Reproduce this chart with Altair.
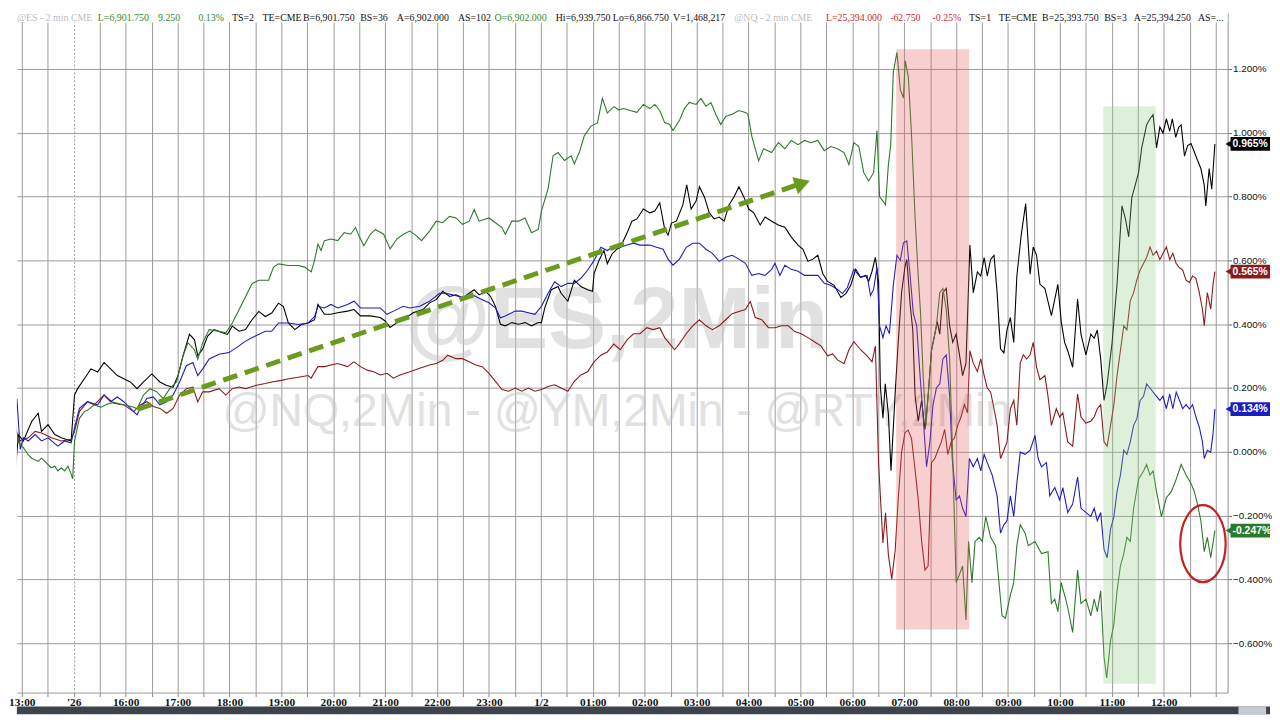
import json
import altair as alt
import pandas as pd

# ---------------- data (x = half-hour slot, 0 = "13:00" label; y = % change) ----------------
x_labels = ["13:00", "'26", "16:00", "17:00", "18:00", "19:00", "20:00", "21:00", "22:00",
            "23:00", "1/2", "01:00", "02:00", "03:00", "04:00", "05:00", "06:00", "07:00",
            "08:00", "09:00", "10:00", "11:00", "12:00"]
y_ticks = [-0.6, -0.4, -0.2, 0.0, 0.2, 0.4, 0.6, 0.8, 1.0, 1.2]

rty_black = [
    (-0.51, 0.157), (-0.38, 0.034), (-0.25, -0.059), (-0.13, 0.054), (0.06, 0.034), (0.38, 0.095),
    (0.63, 0.121), (0.76, 0.064), (1.01, 0.085), (1.27, 0.054), (1.52, 0.044), (1.90, 0.034),
    (2.03, 0.178), (2.15, 0.198), (2.41, 0.229), (2.66, 0.260), (2.92, 0.250), (3.17, 0.280),
    (3.42, 0.260), (3.68, 0.239), (3.93, 0.229), (4.18, 0.219), (4.44, 0.198), (4.69, 0.219),
    (5.01, 0.244), (5.32, 0.219), (5.58, 0.208), (5.83, 0.203), (6.02, 0.239), (6.21, 0.301),
    (6.46, 0.368), (6.65, 0.352), (6.78, 0.301), (6.97, 0.322), (7.16, 0.363), (7.41, 0.383),
    (7.73, 0.373), (7.92, 0.368), (8.11, 0.394), (8.37, 0.378), (8.62, 0.383), (8.87, 0.414),
    (9.13, 0.440), (9.38, 0.424), (9.63, 0.435), (9.89, 0.466), (10.08, 0.455), (10.27, 0.404),
    (10.52, 0.383), (10.77, 0.399), (11.03, 0.404), (11.28, 0.414),
    (11.41, 0.462), (11.66, 0.431), (11.91, 0.431), (12.17, 0.436), (12.55, 0.441), (12.80, 0.446),
    (13.05, 0.426), (13.43, 0.426), (13.81, 0.421), (14.00, 0.410), (14.19, 0.390), (14.45, 0.405),
    (14.70, 0.415), (15.08, 0.436), (15.46, 0.446), (15.71, 0.467), (15.97, 0.477), (16.22, 0.503),
    (16.48, 0.487), (16.73, 0.492), (16.98, 0.482), (17.24, 0.497), (17.43, 0.508), (17.62, 0.492),
    (17.87, 0.503), (18.06, 0.487), (18.25, 0.456), (18.44, 0.400), (18.63, 0.395), (18.88, 0.405),
    (19.14, 0.400), (19.39, 0.405), (19.64, 0.395), (19.90, 0.405), (20.02, 0.405), (20.15, 0.451),
    (20.40, 0.508), (20.66, 0.518), (20.78, 0.497), (21.04, 0.472), (21.29, 0.538), (21.54, 0.518),
    (21.80, 0.508), (21.99, 0.503), (22.05, 0.559), (22.24, 0.600), (22.43, 0.631), (22.56, 0.590),
    (22.75, 0.621), (22.94, 0.636),
    (23.06, 0.641), (23.32, 0.686), (23.51, 0.723), (23.70, 0.730), (23.95, 0.761), (24.20, 0.749),
    (24.39, 0.755), (24.58, 0.780), (24.77, 0.698), (24.90, 0.679), (25.03, 0.717), (25.22, 0.723),
    (25.47, 0.774), (25.62, 0.837), (25.79, 0.761), (25.98, 0.786), (26.11, 0.831), (26.30, 0.799),
    (26.49, 0.749), (26.68, 0.730), (26.87, 0.736), (27.06, 0.723), (27.25, 0.774), (27.44, 0.799),
    (27.63, 0.831), (27.82, 0.799), (28.01, 0.761), (28.20, 0.749), (28.45, 0.711), (28.64, 0.736),
    (28.89, 0.723), (29.15, 0.711), (29.40, 0.704), (29.65, 0.673), (29.91, 0.648), (30.10, 0.635),
    (30.29, 0.597), (30.48, 0.604), (30.67, 0.616), (30.86, 0.559), (31.05, 0.534), (31.30, 0.522),
    (31.56, 0.484), (31.75, 0.496), (31.94, 0.522), (32.13, 0.572), (32.32, 0.547), (32.51, 0.553),
    (32.63, 0.534), (32.76, 0.566), (32.89, 0.610), (33.01, 0.534), (33.08, 0.206), (33.18, 0.105),
    (33.27, 0.213), (33.39, 0.118), (33.49, -0.059), (33.65, 0.181), (33.77, 0.345), (33.90, 0.500),
    (34.03, 0.580), (34.10, 0.603), (34.23, 0.460), (34.33, 0.382), (34.42, 0.174), (34.54, 0.096),
    (34.67, 0.161), (34.80, 0.070), (34.92, 0.174), (35.05, 0.317), (35.18, 0.369), (35.27, 0.408),
    (35.37, 0.369), (35.49, 0.499), (35.62, 0.512), (35.75, 0.395), (35.87, 0.343), (36.00, 0.369),
    (36.13, 0.304), (36.25, 0.239), (36.38, 0.278), (36.53, 0.648), (36.66, 0.499), (36.82, 0.564),
    (36.95, 0.551), (37.08, 0.609), (37.20, 0.551), (37.33, 0.603), (37.46, 0.616), (37.58, 0.499),
    (37.71, 0.323), (37.84, 0.310), (37.96, 0.382), (38.09, 0.421), (38.22, 0.343), (38.34, 0.551),
    (38.51, 0.681), (38.68, 0.778), (38.85, 0.557), (38.97, 0.642), (39.10, 0.616), (39.23, 0.525),
    (39.42, 0.512), (39.67, 0.427), (39.92, 0.525), (40.05, 0.408), (40.18, 0.343), (40.30, 0.317),
    (40.49, 0.265), (40.68, 0.479), (40.81, 0.369), (41.00, 0.304), (41.19, 0.369), (41.32, 0.356),
    (41.44, 0.382), (41.57, 0.291), (41.70, 0.161), (41.82, 0.213), (42.01, 0.343), (42.20, 0.525),
    (42.39, 0.771), (42.52, 0.732), (42.65, 0.674), (42.77, 0.797), (42.90, 0.836), (43.03, 0.875),
    (43.15, 0.953), (43.34, 1.025), (43.47, 1.044), (43.59, 1.057), (43.72, 0.953), (43.85, 1.018),
    (43.97, 0.999), (44.10, 1.044), (44.23, 1.005), (44.33, 1.044), (44.46, 0.986), (44.58, 1.018),
    (44.67, 1.025), (44.80, 0.927), (44.92, 0.960), (45.05, 0.966), (45.18, 0.940), (45.30, 0.914),
    (45.43, 0.888), (45.56, 0.836), (45.62, 0.771), (45.75, 0.888), (45.85, 0.823), (45.97, 0.965),
]

ym_red = [
    (-0.51, 0.140), (-0.38, 0.100), (-0.25, 0.080), (-0.13, 0.033), (0.25, 0.044), (0.51, 0.064),
    (0.76, 0.059), (1.14, 0.044), (1.52, 0.034), (1.90, 0.039), (2.03, 0.064), (2.22, 0.126),
    (2.53, 0.157), (2.79, 0.147), (3.17, 0.178), (3.55, 0.152), (3.93, 0.147), (4.31, 0.126),
    (4.56, 0.147), (4.82, 0.157), (5.07, 0.142), (5.32, 0.136), (5.58, 0.121), (5.83, 0.136),
    (6.08, 0.178), (6.34, 0.198), (6.59, 0.203), (6.78, 0.157), (6.97, 0.188), (7.22, 0.188),
    (7.60, 0.198), (7.86, 0.178), (8.11, 0.198), (8.37, 0.203), (8.62, 0.198), (9.00, 0.208),
    (9.38, 0.214), (9.63, 0.219), (10.01, 0.224), (10.27, 0.229), (10.65, 0.234), (11.03, 0.239),
    (11.15, 0.231), (11.41, 0.267), (11.66, 0.267), (11.91, 0.272), (12.17, 0.277), (12.55, 0.267),
    (12.80, 0.282), (13.05, 0.267), (13.31, 0.256), (13.56, 0.251), (13.81, 0.241), (14.07, 0.246),
    (14.32, 0.231), (14.57, 0.241), (14.95, 0.251), (15.33, 0.262), (15.71, 0.272), (15.97, 0.277),
    (16.22, 0.287), (16.41, 0.303), (16.73, 0.292), (16.98, 0.292), (17.24, 0.282), (17.49, 0.272),
    (17.74, 0.267), (18.00, 0.246), (18.25, 0.221), (18.50, 0.195), (18.76, 0.190), (19.01, 0.200),
    (19.26, 0.190), (19.52, 0.200), (19.77, 0.190), (20.02, 0.195), (20.28, 0.205), (20.53, 0.210),
    (20.78, 0.200), (21.04, 0.190), (21.29, 0.221), (21.54, 0.241), (21.80, 0.251), (22.05, 0.282),
    (22.31, 0.303), (22.56, 0.313), (22.81, 0.338),
    (23.06, 0.320), (23.32, 0.351), (23.57, 0.370), (23.82, 0.370), (24.08, 0.389), (24.33, 0.383),
    (24.58, 0.389), (24.77, 0.358), (24.96, 0.339), (25.15, 0.320), (25.34, 0.339), (25.60, 0.370),
    (25.85, 0.395), (26.11, 0.414), (26.36, 0.395), (26.61, 0.383), (26.87, 0.395), (27.12, 0.414),
    (27.37, 0.433), (27.63, 0.440), (27.88, 0.446), (28.07, 0.471), (28.26, 0.421), (28.51, 0.414),
    (28.77, 0.389), (29.02, 0.389), (29.27, 0.395), (29.53, 0.395), (29.78, 0.377), (30.03, 0.370),
    (30.29, 0.358), (30.54, 0.345), (30.79, 0.332), (31.05, 0.301), (31.24, 0.307), (31.43, 0.288),
    (31.68, 0.276), (31.87, 0.320), (32.06, 0.345), (32.32, 0.320), (32.57, 0.301), (32.76, 0.282),
    (32.89, 0.332), (33.01, -0.033), (33.18, -0.286), (33.28, -0.191), (33.39, -0.323), (33.52, -0.399),
    (33.65, -0.311), (33.77, -0.147), (33.90, 0.000), (34.03, 0.060), (34.15, 0.068), (34.28, 0.042),
    (34.41, -0.050), (34.54, -0.150), (34.67, -0.280), (34.80, -0.371), (34.92, -0.358), (35.05, -0.034),
    (35.18, -0.021), (35.30, 0.005), (35.43, 0.031), (35.56, 0.070), (35.68, -0.008), (35.81, 0.031),
    (35.94, 0.044), (36.06, 0.083), (36.19, 0.109), (36.32, 0.148), (36.44, 0.122), (36.53, 0.317),
    (36.66, 0.278), (36.82, 0.252), (36.95, 0.291), (37.08, 0.239), (37.20, 0.200), (37.33, 0.187),
    (37.46, 0.135), (37.58, 0.083), (37.71, -0.021), (37.84, 0.005), (37.96, 0.031), (38.09, 0.135),
    (38.22, 0.161), (38.34, 0.083), (38.47, 0.278), (38.59, 0.304), (38.72, 0.291), (38.85, 0.304),
    (38.97, 0.343), (39.10, 0.265), (39.23, 0.226), (39.42, 0.239), (39.54, 0.174), (39.67, 0.083),
    (39.86, 0.135), (39.99, 0.109), (40.11, 0.122), (40.30, 0.031), (40.49, 0.018), (40.68, 0.181),
    (40.81, 0.109), (41.00, 0.090), (41.19, 0.096), (41.32, 0.109), (41.44, 0.135), (41.57, 0.148),
    (41.70, 0.031), (41.82, 0.018), (41.95, 0.083), (42.08, 0.148), (42.20, 0.239), (42.33, 0.317),
    (42.46, 0.395), (42.58, 0.382), (42.71, 0.473), (42.84, 0.499), (42.96, 0.538), (43.09, 0.570),
    (43.22, 0.590), (43.34, 0.609), (43.47, 0.642), (43.59, 0.616), (43.72, 0.629), (43.85, 0.603),
    (43.97, 0.622), (44.10, 0.642), (44.23, 0.603), (44.35, 0.622), (44.48, 0.590), (44.61, 0.577),
    (44.73, 0.570), (44.86, 0.538), (44.99, 0.531), (45.11, 0.551), (45.24, 0.544), (45.37, 0.499),
    (45.49, 0.447), (45.56, 0.395), (45.68, 0.499), (45.81, 0.447), (45.90, 0.525), (45.97, 0.565),
]

es_blue = [
    (-0.51, 0.198), (-0.38, 0.157), (-0.25, 0.116), (-0.19, 0.167), (-0.06, 0.008), (0.06, 0.044),
    (0.25, 0.034), (0.51, 0.054), (0.76, 0.034), (1.01, 0.044), (1.39, 0.018), (1.65, 0.034),
    (1.90, 0.028), (2.03, 0.075), (2.22, 0.136), (2.53, 0.157), (2.92, 0.147), (3.17, 0.178),
    (3.42, 0.157), (3.68, 0.172), (3.93, 0.157), (4.31, 0.126), (4.44, 0.116), (4.56, 0.136),
    (4.82, 0.167), (5.07, 0.172), (5.32, 0.147), (5.58, 0.157), (5.83, 0.178), (6.08, 0.219),
    (6.34, 0.270), (6.59, 0.280), (6.78, 0.239), (6.97, 0.260), (7.22, 0.291), (7.60, 0.306),
    (7.98, 0.311), (8.37, 0.332), (8.62, 0.347), (9.00, 0.363), (9.38, 0.378), (9.63, 0.378),
    (9.89, 0.404), (10.27, 0.404), (10.65, 0.399), (11.03, 0.404), (11.28, 0.424),
    (11.41, 0.456), (11.66, 0.451), (11.91, 0.462), (12.17, 0.451), (12.55, 0.462), (12.80, 0.472),
    (13.05, 0.451), (13.43, 0.451), (13.81, 0.451), (14.07, 0.431), (14.32, 0.441), (14.70, 0.456),
    (14.95, 0.451), (15.33, 0.456), (15.71, 0.472), (16.10, 0.497), (16.35, 0.497), (16.60, 0.492),
    (16.86, 0.487), (17.11, 0.482), (17.36, 0.492), (17.74, 0.477), (18.00, 0.467), (18.25, 0.451),
    (18.44, 0.420), (18.63, 0.426), (19.01, 0.441), (19.26, 0.441), (19.52, 0.436), (19.77, 0.431),
    (20.02, 0.456), (20.28, 0.497), (20.53, 0.533), (20.78, 0.518), (21.04, 0.528), (21.29, 0.528),
    (21.54, 0.544), (21.80, 0.569), (22.05, 0.600), (22.31, 0.641), (22.56, 0.631), (22.75, 0.641),
    (23.00, 0.646),
    (23.06, 0.641), (23.32, 0.648), (23.57, 0.654), (23.82, 0.648), (24.20, 0.648), (24.46, 0.641),
    (24.71, 0.635), (24.90, 0.604), (25.09, 0.585), (25.34, 0.604), (25.60, 0.641), (25.85, 0.654),
    (26.11, 0.654), (26.36, 0.635), (26.61, 0.622), (26.87, 0.597), (27.12, 0.610), (27.37, 0.616),
    (27.63, 0.604), (27.88, 0.591), (28.13, 0.553), (28.39, 0.559), (28.64, 0.553), (28.89, 0.572),
    (29.02, 0.591), (29.21, 0.553), (29.40, 0.585), (29.65, 0.572), (29.91, 0.566), (30.16, 0.553),
    (30.41, 0.553), (30.67, 0.553), (30.92, 0.528), (31.17, 0.522), (31.43, 0.509), (31.62, 0.496),
    (31.81, 0.515), (32.06, 0.572), (32.32, 0.547), (32.57, 0.553), (32.70, 0.490), (32.82, 0.509),
    (32.95, 0.578), (33.05, 0.395), (33.18, 0.358), (33.30, 0.395), (33.43, 0.370), (33.58, 0.522),
    (33.72, 0.616), (33.85, 0.600), (33.97, 0.655), (34.10, 0.661), (34.23, 0.551), (34.35, 0.434),
    (34.48, 0.395), (34.61, 0.239), (34.73, 0.109), (34.86, -0.047), (34.99, 0.031), (35.11, 0.148),
    (35.24, 0.200), (35.37, 0.213), (35.49, 0.291), (35.62, 0.304), (35.75, 0.174), (35.85, -0.021),
    (36.00, -0.151), (36.13, -0.138), (36.25, -0.177), (36.38, -0.203), (36.51, -0.021), (36.66, -0.047),
    (36.82, -0.021), (36.95, -0.060), (37.08, -0.008), (37.20, -0.034), (37.39, -0.073), (37.58, -0.138),
    (37.71, -0.255), (37.84, -0.229), (37.96, -0.216), (38.09, -0.138), (38.22, -0.203), (38.34, -0.099),
    (38.47, -0.001), (38.66, -0.008), (38.85, 0.005), (39.04, 0.051), (39.16, -0.021), (39.29, -0.047),
    (39.48, -0.034), (39.61, -0.138), (39.80, -0.112), (39.99, -0.151), (40.11, -0.112), (40.30, -0.190),
    (40.49, -0.164), (40.68, -0.079), (40.81, -0.177), (41.00, -0.190), (41.19, -0.203), (41.32, -0.177),
    (41.44, -0.216), (41.57, -0.190), (41.70, -0.306), (41.82, -0.332), (41.95, -0.242), (42.08, -0.203),
    (42.20, -0.125), (42.33, -0.073), (42.46, 0.005), (42.58, -0.008), (42.71, 0.031), (42.84, 0.083),
    (42.96, 0.103), (43.09, 0.161), (43.22, 0.174), (43.34, 0.213), (43.47, 0.200), (43.59, 0.187),
    (43.72, 0.174), (43.85, 0.161), (43.97, 0.174), (44.10, 0.135), (44.23, 0.181), (44.35, 0.135),
    (44.48, 0.187), (44.61, 0.161), (44.73, 0.135), (44.86, 0.148), (44.99, 0.135), (45.11, 0.148),
    (45.24, 0.109), (45.37, 0.077), (45.49, 0.031), (45.56, -0.021), (45.68, 0.005), (45.81, -0.001),
    (45.90, 0.057), (45.97, 0.134),
]

nq_green = [
    (-0.51, 0.130), (-0.38, 0.060), (-0.25, 0.090), (-0.13, 0.030), (0.06, 0.013), (0.25, -0.010),
    (0.38, -0.020), (0.63, -0.030), (0.76, -0.020), (1.01, -0.040), (1.14, -0.050), (1.27, -0.045),
    (1.39, -0.060), (1.52, -0.050), (1.65, -0.060), (1.78, -0.045), (1.90, -0.070), (1.96, -0.085),
    (2.03, 0.033), (2.15, 0.080), (2.22, 0.105), (2.41, 0.126), (2.53, 0.130), (2.79, 0.147),
    (3.05, 0.140), (3.30, 0.150), (3.55, 0.155), (3.80, 0.150), (4.05, 0.145), (4.31, 0.140),
    (4.44, 0.135), (4.69, 0.178), (4.94, 0.198), (5.20, 0.188), (5.45, 0.167), (5.70, 0.198),
    (5.96, 0.219), (6.21, 0.300), (6.40, 0.342), (6.65, 0.320), (6.78, 0.290), (6.97, 0.342),
    (7.22, 0.383), (7.60, 0.378), (7.86, 0.373), (8.11, 0.404), (8.37, 0.445), (8.62, 0.486),
    (8.87, 0.527), (9.13, 0.538), (9.51, 0.538), (9.70, 0.579), (9.89, 0.589), (10.27, 0.584),
    (10.65, 0.584), (10.90, 0.579), (11.15, 0.564),
    (11.28, 0.600), (11.41, 0.651), (11.53, 0.631), (11.66, 0.662), (11.91, 0.667), (12.17, 0.662),
    (12.42, 0.687), (12.67, 0.682), (12.86, 0.703), (12.99, 0.677), (13.18, 0.646), (13.43, 0.682),
    (13.62, 0.697), (13.94, 0.682), (14.19, 0.636), (14.45, 0.667), (14.70, 0.682), (14.95, 0.692),
    (15.21, 0.677), (15.40, 0.662), (15.71, 0.692), (15.97, 0.723), (16.22, 0.718), (16.48, 0.738),
    (16.73, 0.733), (16.98, 0.713), (17.24, 0.723), (17.43, 0.759), (17.62, 0.723), (18.00, 0.733),
    (18.25, 0.718), (18.50, 0.703), (18.63, 0.682), (18.88, 0.723), (19.14, 0.723), (19.39, 0.733),
    (19.64, 0.687), (19.90, 0.697), (20.02, 0.754), (20.28, 0.826), (20.47, 0.928), (20.66, 0.938),
    (20.91, 0.913), (21.16, 0.928), (21.29, 0.903), (21.48, 0.938), (21.67, 0.990), (21.93, 1.021),
    (22.18, 1.031), (22.37, 1.108), (22.56, 1.062), (22.81, 1.082), (23.00, 1.072),
    (23.19, 1.076), (23.44, 1.070), (23.70, 1.064), (23.95, 1.089), (24.20, 1.076), (24.39, 1.089),
    (24.58, 1.070), (24.77, 1.032), (24.96, 1.026), (25.09, 1.007), (25.34, 1.039), (25.53, 1.076),
    (25.72, 1.095), (25.98, 1.089), (26.17, 1.108), (26.36, 1.083), (26.55, 1.095), (26.74, 1.058),
    (26.93, 1.026), (27.12, 1.051), (27.37, 1.058), (27.63, 1.070), (27.88, 1.064), (27.98, 1.058),
    (28.13, 0.988), (28.39, 0.912), (28.58, 0.950), (28.89, 0.938), (29.15, 0.969), (29.40, 0.950),
    (29.65, 0.976), (29.91, 0.963), (30.16, 0.976), (30.41, 0.969), (30.67, 0.976), (30.92, 0.944),
    (31.17, 0.957), (31.43, 0.950), (31.68, 0.938), (31.87, 0.900), (32.06, 0.969), (32.25, 0.957),
    (32.44, 0.875), (32.63, 0.849), (32.82, 0.875), (32.95, 1.007), (33.05, 0.799), (33.18, 0.786),
    (33.28, 0.774), (33.39, 0.900), (33.48, 0.963), (33.58, 1.190),
    (33.72, 1.252), (33.85, 1.135), (33.97, 1.109), (34.04, 1.226), (34.16, 1.174), (34.29, 0.979),
    (34.42, 0.732), (34.54, 0.551), (34.63, 0.434), (34.73, 0.239), (34.84, 0.083), (34.92, 0.174),
    (35.05, 0.317), (35.24, 0.395), (35.37, 0.499), (35.49, 0.512), (35.62, 0.447), (35.75, 0.291),
    (35.87, -0.021), (36.00, -0.410), (36.13, -0.384), (36.25, -0.358), (36.32, -0.449), (36.38, -0.527),
    (36.48, -0.281), (36.61, -0.410), (36.73, -0.281), (36.89, -0.268), (37.01, -0.281), (37.14, -0.203),
    (37.33, -0.268), (37.52, -0.294), (37.65, -0.410), (37.77, -0.514), (37.90, -0.521), (38.09, -0.449),
    (38.22, -0.410), (38.34, -0.294), (38.47, -0.229), (38.66, -0.255), (38.78, -0.294), (39.04, -0.281),
    (39.29, -0.319), (39.54, -0.313), (39.67, -0.475), (39.80, -0.462), (39.92, -0.501), (40.05, -0.410),
    (40.18, -0.449), (40.30, -0.488), (40.49, -0.566), (40.68, -0.371), (40.81, -0.475), (41.00, -0.462),
    (41.19, -0.514), (41.32, -0.462), (41.44, -0.501), (41.57, -0.436), (41.70, -0.644), (41.80, -0.709),
    (41.95, -0.592), (42.08, -0.540), (42.20, -0.436), (42.33, -0.358), (42.46, -0.319), (42.58, -0.268),
    (42.71, -0.281), (42.84, -0.177), (43.03, -0.086), (43.22, -0.060), (43.34, -0.040), (43.47, -0.073),
    (43.59, -0.060), (43.72, -0.125), (43.91, -0.203), (44.10, -0.144), (44.29, -0.125), (44.48, -0.086),
    (44.67, -0.040), (44.86, -0.073), (45.05, -0.099), (45.18, -0.125), (45.30, -0.164), (45.43, -0.216),
    (45.56, -0.313), (45.68, -0.268), (45.81, -0.332), (45.97, -0.247),
]

series_names = ["RTY", "YM", "ES", "NQ"]
series_colors = ["#000000", "#8b1a1a", "#1c1cc4", "#2a7a2a"]
last_values = [0.965, 0.565, 0.134, -0.247]
last_labels = ["0.965%", "0.565%", "0.134%", "-0.247%"]

# header tokens (text, colour key)
header_tokens = [
    ("@ES - 2 min  CME", "gray"), ("L=6,901.750", "green"), ("9.250", "green"), ("0.13%", "green"),
    ("TS=2", "black"), ("TE=CME", "black"), ("B=6,901.750", "black"), ("BS=36", "black"),
    ("A=6,902.000", "black"), ("AS=102", "black"), ("O=6,902.000", "green"), ("Hi=6,939.750", "black"),
    ("Lo=6,866.750", "black"), ("V=1,468,217", "black"), ("@NQ - 2 min  CME", "gray"),
    ("L=25,394.000", "red"), ("-62.750", "red"), ("-0.25%", "red"), ("TS=1", "black"),
    ("TE=CME", "black"), ("B=25,393.750", "black"), ("BS=3", "black"), ("A=25,394.250", "black"),
    ("AS=...", "black"),
]
header_x = [0, 82, 143, 184, 218, 249, 290, 348, 385, 447, 484, 546, 604, 665, 727,
            820, 885, 928, 965, 995, 1039, 1102, 1132, 1197]
header_colors = {"gray": "#bdbdbd", "green": "#2e8b2e", "red": "#d02a2a", "black": "#111111"}

# annotations (data units)
red_zone = (33.69, 36.50, 1.262, -0.557)
green_zone = (41.67, 43.69, 1.083, -0.727)
arrow_tail = (4.45, 0.133)
arrow_end = (29.81, 0.835)
arrow_head = (30.08, 0.842)
circle_center = (45.51, -0.288)

# ---------------- layout ----------------
W, H = 1227, 689
X_DOMAIN = [-0.19, 46.46]
Y_DOMAIN = [-0.7547, 1.3764]
GRID = "#9a9a9a"

rows = []
for name, pts in zip(series_names, [rty_black, ym_red, es_blue, nq_green]):
    for t, v in pts:
        rows.append({"s": name, "t": t, "v": v})
df = pd.DataFrame(rows)

xs = alt.Scale(domain=X_DOMAIN, nice=False, zero=False)
ys = alt.Scale(domain=Y_DOMAIN, nice=False, zero=False)

label_expr = ("datum.value % 2 === 0 && datum.value >= 0 && datum.value <= 44 ? "
              + json.dumps(x_labels) + "[datum.value / 2] : ''")
xaxis = alt.Axis(values=list(range(0, 47)), labelExpr=label_expr, grid=True, gridColor=GRID,
                 gridWidth=1,
                 gridDash={"condition": {"test": "datum.value === 2", "value": [2, 2]}, "value": []},
                 tickColor="#888888", tickSize=4, labelFontSize=11.5, labelFont="Liberation Sans Narrow",
                 labelFontWeight="bold", labelColor="#111111", labelPadding=0, domainColor=GRID,
                 labelOverlap=False, labelFlush=False, title=None)
yaxis = alt.Axis(orient="right", values=y_ticks, labelExpr="format(datum.value, '.3f') + '%'",
                 grid=True, gridColor=GRID, gridWidth=1, tickColor="#666666", tickSize=4,
                 labelFontSize=10, labelFont="Liberation Sans", labelColor="#111111", labelPadding=1,
                 domainColor="#8a8a8a", title=None)

X = lambda f: alt.X(f"{f}:Q", scale=xs, axis=xaxis)
Y = lambda f: alt.Y(f"{f}:Q", scale=ys, axis=yaxis)
color = alt.Color("s:N", scale=alt.Scale(domain=series_names, range=series_colors), legend=None)
one = pd.DataFrame({"a": [0]})

wm1 = alt.Chart(one).mark_text(text="@ES,2Min", font="Liberation Sans", fontWeight="bold",
                               fontSize=88, color="#c4c4c4", opacity=0.5, align="center",
                               baseline="middle").encode(x=alt.value(608), y=alt.value(314))
wm2 = alt.Chart(one).mark_text(text="@NQ,2Min - @YM,2Min - @RTY,2Min", font="Liberation Sans",
                               fontSize=47, color="#c4c4c4", opacity=0.5, align="center",
                               baseline="middle").encode(x=alt.value(608), y=alt.value(405))

lines = alt.Chart(df).mark_line(strokeWidth=1.1, clip=True).encode(x=X("t"), y=Y("v"), color=color)

shade_df = pd.DataFrame({
    "t": [red_zone[0], green_zone[0]], "t2": [red_zone[1], green_zone[1]],
    "v": [red_zone[2], green_zone[2]], "v2": [red_zone[3], green_zone[3]],
    "k": ["red", "green"]})
shades = alt.Chart(shade_df).mark_rect(opacity=0.3).encode(
    x=X("t"), x2="t2", y=Y("v"), y2="v2",
    fill=alt.Fill("k:N", scale=alt.Scale(domain=["red", "green"], range=["#e55f5f", "#95cd84"]),
                  legend=None))

arrow_df = pd.DataFrame({"t": [arrow_tail[0]], "v": [arrow_tail[1]],
                         "t2": [arrow_end[0]], "v2": [arrow_end[1]]})
arrow = alt.Chart(arrow_df).mark_rule(strokeWidth=5, strokeDash=[15, 8], color="#6a9b1e").encode(
    x=X("t"), y=Y("v"), x2="t2", y2="v2")
head_df = pd.DataFrame({"t": [arrow_head[0]], "v": [arrow_head[1]]})
head = alt.Chart(head_df).mark_point(shape="triangle-right", filled=True, size=330, angle=341.2,
                                     color="#6a9b1e", opacity=1).encode(x=X("t"), y=Y("v"))

ELLIPSE = ("M 0 -1 C 0.326 -1 0.59 -0.552 0.59 0 C 0.59 0.552 0.326 1 0 1 "
           "C -0.326 1 -0.59 0.552 -0.59 0 C -0.59 -0.552 -0.326 -1 0 -1 Z")
circ_df = pd.DataFrame({"t": [circle_center[0]], "v": [circle_center[1]]})
circle = alt.Chart(circ_df).mark_point(shape=ELLIPSE, size=6084, filled=False, strokeWidth=2.2,
                                       color="#c81e1e", opacity=1).encode(x=X("t"), y=Y("v"))

strip = alt.Chart(one).mark_rect(color="white").encode(
    x=alt.value(0), x2=alt.value(W), y=alt.value(0), y2=alt.value(10))
header_layers = []
for (txt, ck), hx in zip(header_tokens, header_x):
    header_layers.append(
        alt.Chart(one).mark_text(text=txt, font="Liberation Sans Narrow", fontSize=10,
                                 color=header_colors[ck], align="left", baseline="middle")
        .encode(x=alt.value(hx), y=alt.value(5)))

lv_df = pd.DataFrame({"s": series_names, "v": last_values, "label": last_labels})
boxes = alt.Chart(lv_df).mark_rect(yOffset=-7, y2Offset=7).encode(
    x=alt.value(1230), x2=alt.value(1270), y=Y("v"), y2="v", color=color)
pointers = alt.Chart(lv_df).mark_point(shape="triangle-left", filled=True, size=90, opacity=1).encode(
    x=alt.value(1229), y=Y("v"), color=color)
box_text = alt.Chart(lv_df).mark_text(align="left", baseline="middle", font="Liberation Sans",
                                      fontSize=10.5, fontWeight="bold", color="white").encode(
    x=alt.value(1232), y=Y("v"), text="label:N")

bar_dark = alt.Chart(one).mark_rect(color="#3d424b").encode(
    x=alt.value(0), x2=alt.value(1270), y=alt.value(703), y2=alt.value(711))
bar_light = alt.Chart(one).mark_rect(color="#c6cad1").encode(
    x=alt.value(1238), x2=alt.value(1266), y=alt.value(703), y2=alt.value(711))

chart = alt.layer(
    wm1, wm2, lines, shades, arrow, head, circle, strip, *header_layers,
    boxes, pointers, box_text, bar_dark, bar_light
).properties(width=W, height=H, padding=0, background="white").configure_view(strokeWidth=0)

chart.save("out.html", embed_options={"renderer": "svg", "actions": False})
